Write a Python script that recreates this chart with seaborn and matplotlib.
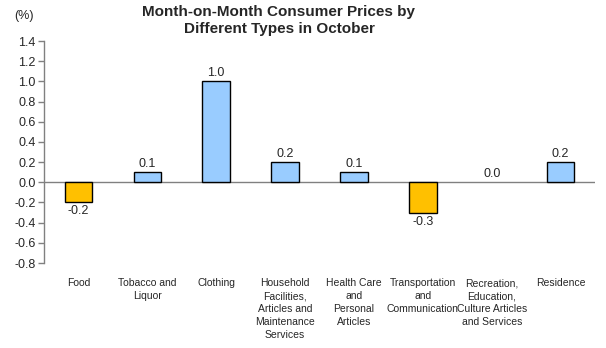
import matplotlib
matplotlib.use("Agg")
import matplotlib.pyplot as plt
import seaborn as sns
import pandas as pd

categories = ["Food", "Tobacco and\nLiquor", "Clothing",
              "Household\nFacilities,\nArticles and\nMaintenance\nServices",
              "Health Care\nand\nPersonal\nArticles",
              "Transportation\nand\nCommunication",
              "Recreation,\nEducation,\nCulture Articles\nand Services",
              "Residence"]
values = [-0.2, 0.1, 1.0, 0.2, 0.1, -0.3, 0.0, 0.2]
yticks = [-0.8, -0.6, -0.4, -0.2, 0.0, 0.2, 0.4, 0.6, 0.8, 1.0, 1.2, 1.4]

sns.set_theme(style="white")
plt.rcParams['font.family'] = ['Liberation Sans', 'DejaVu Sans']

df = pd.DataFrame({"cat": categories, "val": values})
df["sign"] = ["neg" if v < 0 else "pos" for v in values]

fig = plt.figure(figsize=(6.06, 3.48), dpi=100)
ax = fig.add_axes([44/606, 1-263/348, (595-44)/606, (263-41)/348])

sns.barplot(data=df, x="cat", y="val", hue="sign",
            palette={"pos": "#99CCFF", "neg": "#FFC000"}, saturation=1,
            dodge=False, width=0.4, edgecolor="black", linewidth=1,
            legend=False, ax=ax)

for p in ax.patches:
    if abs(p.get_height()) < 1e-9:
        p.set_edgecolor("none")

ax.set_ylim(-0.8, 1.4)
ax.set_xlim(-0.5, len(categories) - 0.5)
ax.set_yticks(yticks)
ax.set_yticklabels([f"{t:.1f}" for t in yticks], fontsize=9)
ax.set_xlabel("")
ax.set_ylabel("")
ax.tick_params(axis="x", length=0, pad=11, labelsize=7.5)
ax.tick_params(axis="y", length=4, width=1, color="#808080", direction="out", left=True, pad=2)
for s in ["top", "right", "bottom"]:
    ax.spines[s].set_visible(False)
ax.spines["left"].set_color("#808080")
ax.spines["left"].set_linewidth(1)
ax.axhline(0, color="#808080", linewidth=1, zorder=0.5)
for lbl in ax.get_xticklabels():
    lbl.set_linespacing(1.36)
    lbl.set_verticalalignment("top")

for i, v in enumerate(values):
    if v < 0:
        ax.text(i, v - 0.03, f"{v:.1f}", ha="center", va="top", fontsize=9)
    else:
        ax.text(i, v + 0.02, f"{v:.1f}", ha="center", va="bottom", fontsize=9)

fig.text(279/606, 1-5/348, "Month-on-Month Consumer Prices by\nDifferent Types in October",
         ha="center", va="top", fontsize=11, fontweight="bold", linespacing=1.3)
fig.text(14/606, 1-10/348, "(%)", ha="left", va="top", fontsize=9)

fig.savefig("out.png", dpi=100)
